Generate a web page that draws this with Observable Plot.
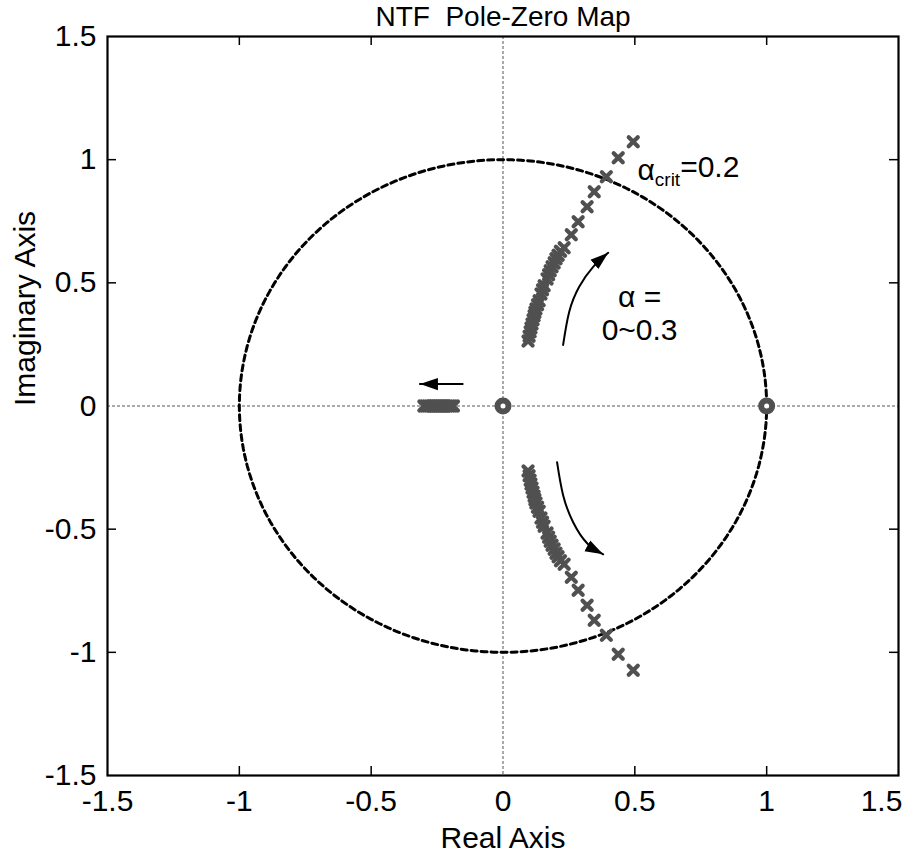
<!DOCTYPE html>
<html><head><meta charset="utf-8">
<script src="https://cdn.jsdelivr.net/npm/d3@7"></script>
<script src="https://cdn.jsdelivr.net/npm/@observablehq/plot@0.6"></script>
<style>
body{margin:0;background:#fff}
svg{font-family:"Liberation Sans",Arial,Helvetica,sans-serif}
</style>
</head><body><div id="chart"></div>
<script>
// ---- text ----
const titleText = "NTF  Pole-Zero Map";
const xLabel = "Real Axis";
const yLabel = "Imaginary Axis";
const tickValues = [-1.5, -1, -0.5, 0, 0.5, 1, 1.5];
const tickLabels = ["-1.5", "-1", "-0.5", "0", "0.5", "1", "1.5"];
const innerTicks = [-1, -0.5, 0.5, 1];

// ---- poles (complex branch, upper half) ----
const poleUpperRe = [0.095,0.099,0.103,0.106,0.110,0.114,0.118,0.121,0.125,0.131,0.137,0.144,0.150,0.156,0.167,0.173,0.179,0.186,0.194,0.201,0.209,0.218,0.232,0.259,0.285,0.319,0.346,0.392,0.437,0.494];
const poleUpperIm = [0.264,0.283,0.301,0.317,0.333,0.350,0.366,0.380,0.394,0.411,0.427,0.455,0.472,0.488,0.516,0.533,0.549,0.565,0.581,0.598,0.612,0.628,0.642,0.695,0.748,0.809,0.870,0.931,1.008,1.073];
// ---- poles (complex branch, lower half) ----
const poleLowerRe = [0.095,0.099,0.103,0.106,0.110,0.114,0.118,0.121,0.125,0.131,0.137,0.144,0.150,0.156,0.167,0.173,0.179,0.186,0.194,0.201,0.209,0.218,0.232,0.259,0.285,0.319,0.346,0.392,0.437,0.494];
const poleLowerIm = [-0.264,-0.283,-0.301,-0.317,-0.333,-0.350,-0.366,-0.380,-0.394,-0.411,-0.427,-0.455,-0.472,-0.488,-0.516,-0.533,-0.549,-0.565,-0.581,-0.598,-0.612,-0.628,-0.642,-0.695,-0.748,-0.809,-0.870,-0.931,-1.008,-1.073];
// ---- poles on the real axis ----
const poleRealRe = [-0.300,-0.292,-0.284,-0.276,-0.268,-0.260,-0.252,-0.244,-0.236,-0.228,-0.220,-0.212,-0.204,-0.196,-0.188];
const poleRealIm = [0,0,0,0,0,0,0,0,0,0,0,0,0,0,0];
// ---- zeros ----
const zeroRe = [0, 1];
const zeroIm = [0, 0];

// ---- annotations ----
const arrowUpRe = [0.228, 0.251, 0.289, 0.342, 0.399];
const arrowUpIm = [0.248, 0.382, 0.484, 0.565, 0.622];
const arrowDownRe = [0.205, 0.228, 0.266, 0.319, 0.380];
const arrowDownIm = [-0.228, -0.362, -0.472, -0.557, -0.602];
const arrowLeftRe = [-0.153, -0.315];
const arrowLeftIm = [0.089, 0.089];
const alphaLabels = ["α =", "0~0.3"];
const alphaLabelRe = [0.518, 0.518];
const alphaLabelIm = [0.441, 0.307];
const critLabel = "αcrit=0.2";
const critLabelRe = 0.510;
const critLabelIm = 0.956;

const zip = (xs, ys) => xs.map((x, i) => ({x, y: ys[i]}));
const polesUpper = zip(poleUpperRe, poleUpperIm);
const polesLower = zip(poleLowerRe, poleLowerIm);
const polesReal = zip(poleRealRe, poleRealIm);
const zeros = zip(zeroRe, zeroIm);
const unitCircle = d3.range(0, 361, 2).map(a => ({x: Math.cos(a * Math.PI / 180), y: Math.sin(a * Math.PI / 180)}));

function headMarker(color, context) {
  const ns = "http://www.w3.org/2000/svg";
  const m = document.createElementNS(ns, "marker");
  m.setAttribute("viewBox", "-5 -5 10 10");
  m.setAttribute("markerWidth", 18);
  m.setAttribute("markerHeight", 18);
  m.setAttribute("markerUnits", "userSpaceOnUse");
  m.setAttribute("orient", "auto");
  m.setAttribute("refX", 5);
  m.setAttribute("refY", 0);
  const p = document.createElementNS(ns, "path");
  p.setAttribute("d", "M-5,-3.4L5,0L-5,3.4Z");
  p.setAttribute("fill", "black");
  p.setAttribute("stroke", "none");
  m.appendChild(p);
  return m;
}

const poleStyle = {x: "x", y: "y", symbol: "times", r: 4.2, stroke: "#505050", strokeWidth: 4.2, strokeLinecap: "round"};
const fs = 30;
const others = tickValues.filter(v => v !== 1.5);

const chart = Plot.plot({
  width: 914,
  height: 860,
  marginLeft: 107,
  marginRight: 16,
  marginTop: 36,
  marginBottom: 85,
  style: {fontFamily: '"Liberation Sans", Arial, sans-serif', background: "#fff"},
  x: {domain: [-1.5, 1.5]},
  y: {domain: [-1.5, 1.5]},
  marks: [
    Plot.ruleX([0], {stroke: "#555", strokeWidth: 1, strokeDasharray: "3,2"}),
    Plot.ruleY([0], {stroke: "#555", strokeWidth: 1, strokeDasharray: "3,2"}),
    Plot.line(unitCircle, {x: "x", y: "y", stroke: "black", strokeWidth: 3, strokeDasharray: "6,4"}),
    Plot.dot(polesUpper, poleStyle),
    Plot.dot(polesLower, poleStyle),
    Plot.dot(polesReal, poleStyle),
    Plot.dot(zeros, {x: "x", y: "y", r: 5.5, fill: "white", stroke: "#505050", strokeWidth: 6}),
    Plot.line(zip(arrowUpRe, arrowUpIm), {x: "x", y: "y", curve: "natural", stroke: "black", strokeWidth: 2, markerEnd: headMarker}),
    Plot.line(zip(arrowDownRe, arrowDownIm), {x: "x", y: "y", curve: "natural", stroke: "black", strokeWidth: 2, markerEnd: headMarker}),
    Plot.line(zip(arrowLeftRe, arrowLeftIm), {x: "x", y: "y", stroke: "black", strokeWidth: 2, markerEnd: headMarker}),
    Plot.text(alphaLabels, {x: (d, i) => alphaLabelRe[i], y: (d, i) => alphaLabelIm[i], text: d => d, fontSize: fs, fill: "black"}),
    Plot.text([critLabel], {x: () => critLabelRe, y: () => critLabelIm, text: d => d, textAnchor: "start", fontSize: fs, fill: "black"}),
    // inward ticks
    Plot.ruleX(innerTicks, {stroke: "black", strokeWidth: 1.5, insetTop: 739 - 9}),
    Plot.ruleX(innerTicks, {stroke: "black", strokeWidth: 1.5, insetBottom: 739 - 9}),
    Plot.ruleY(innerTicks, {stroke: "black", strokeWidth: 1.5, insetRight: 791 - 9}),
    Plot.ruleY(innerTicks, {stroke: "black", strokeWidth: 1.5, insetLeft: 791 - 9}),
    Plot.axisX({anchor: "bottom", ticks: others, tickFormat: d => tickLabels[tickValues.indexOf(d)], tickSize: 0, tickPadding: 14, fontSize: fs, label: null}),
    Plot.axisX({anchor: "bottom", ticks: [1.5], tickFormat: d => tickLabels[tickValues.indexOf(d)], tickSize: 0, tickPadding: 14, fontSize: fs, label: null, dx: -17}),
    Plot.axisY({anchor: "left", ticks: tickValues, tickFormat: d => tickLabels[tickValues.indexOf(d)], tickSize: 0, tickPadding: 11, fontSize: fs, label: null}),
    Plot.text([xLabel], {frameAnchor: "bottom", lineAnchor: "middle", dy: 63, text: d => d, fontSize: fs, fill: "black"}),
    Plot.text([yLabel], {frameAnchor: "left", lineAnchor: "middle", dx: -82, rotate: -90, text: d => d, fontSize: fs, fill: "black"}),
    Plot.text([titleText], {frameAnchor: "top", lineAnchor: "middle", dy: -19, text: d => d, fontSize: 28, fill: "black"}),
    Plot.frame({stroke: "black", strokeWidth: 2.2})
  ]
});

// Subscript for α_crit
d3.select(chart).selectAll("text").each(function() {
  if (this.textContent === critLabel) {
    const t = d3.select(this);
    const tgt = t.select("tspan").empty() ? t : t.select("tspan");
    tgt.text(null);
    tgt.append("tspan").text("α");
    tgt.append("tspan").attr("font-size", 19).attr("dy", "0.3em").text("crit");
    tgt.append("tspan").attr("dy", "-0.3em").text("=0.2");
  }
});

document.getElementById("chart").appendChild(chart);
</script>
</body></html>
